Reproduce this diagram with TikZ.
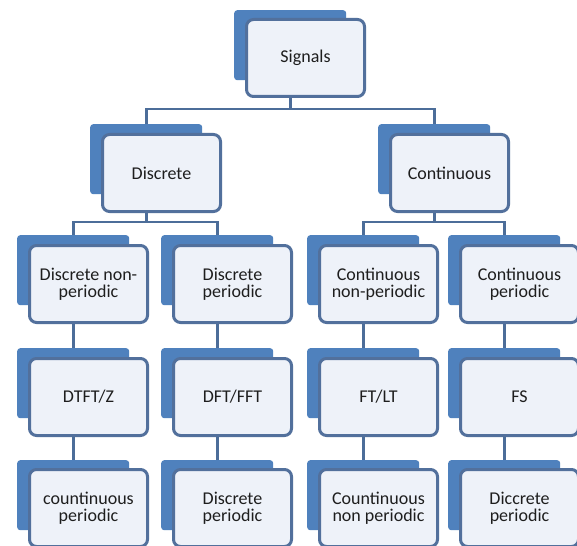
\documentclass[tikz,border=0pt]{standalone}
\usepackage{fontspec}
\setmainfont{Carlito}
\usetikzlibrary{backgrounds}
\definecolor{backblue}{HTML}{4F81BD}
\definecolor{frontfill}{HTML}{EEF2F9}
\definecolor{frontline}{HTML}{52709C}
\definecolor{linecol}{HTML}{4C6D99}
\definecolor{textcol}{HTML}{1E1E1E}
\begin{document}
\begin{tikzpicture}[x=1pt,y=-1pt,
  back/.style={fill=backblue, draw=none, rounded corners=3pt, minimum width=112pt, minimum height=70pt, anchor=north west, inner sep=0pt},
  front/.style={fill=frontfill, draw=frontline, line width=3pt, rounded corners=7pt, minimum width=118pt, minimum height=77pt, anchor=north west, inner sep=0pt, align=center, font=\fontsize{18}{17}\selectfont, text=textcol},
  conn/.style={draw=linecol, line width=2.8pt}]
\useasboundingbox (0,0) rectangle (577,545);
% level 1
\node[back] (sigB) at (234,10) {};
\node[front] (sig) at (245,18) {Signals};
% level 2
\node[back] (disB) at (90,124) {};
\node[front] (dis) at (101,133) {Discrete};
\node[back] (conB) at (378,124) {};
\node[front] (con) at (389,133) {Continuous};
% level 3
\node[back] (dnpB) at (17,235) {};
\node[front] (dnp) at (28,244) {Discrete non-\\periodic};
\node[back] (dpB) at (161,235) {};
\node[front] (dp) at (172,244) {Discrete\\periodic};
\node[back] (cnpB) at (307,235) {};
\node[front] (cnp) at (318,244) {Continuous\\non-periodic};
\node[back] (cpB) at (448,235) {};
\node[front] (cp) at (459,244) {Continuous\\periodic};
% level 4
\node[back] (dtftB) at (17,348) {};
\node[front] (dtft) at (28,357) {DTFT/Z};
\node[back] (dftB) at (161,348) {};
\node[front] (dft) at (172,357) {DFT/FFT};
\node[back] (ftB) at (307,348) {};
\node[front] (ft) at (318,357) {FT/LT};
\node[back] (fsB) at (448,348) {};
\node[front] (fs) at (459,357) {FS};
% level 5
\node[back] (r1B) at (17,460) {};
\node[front] (r1) at (28,468) {countinuous\\periodic};
\node[back] (r2B) at (161,460) {};
\node[front] (r2) at (172,468) {Discrete\\periodic};
\node[back] (r3B) at (307,460) {};
\node[front] (r3) at (318,468) {Countinuous\\non periodic};
\node[back] (r4B) at (448,460) {};
\node[front] (r4) at (459,468) {Diccrete\\periodic};
% connectors
\begin{scope}[on background layer]
\fill[white] (0,0) rectangle (577,545);
\coordinate (barA) at (0,109);
\coordinate (barB) at (0,222);
\draw[conn] (sigB.center |- sig.south) -- (sigB.center |- barA);
\draw[conn] (disB.north) -- (disB.north |- barA) -- (conB.north |- barA) -- (conB.north);
\draw[conn] (disB.center |- dis.south) -- (disB.center |- barB);
\draw[conn] (dnpB.north) -- (dnpB.north |- barB) -- (dpB.north |- barB) -- (dpB.north);
\draw[conn] (conB.center |- con.south) -- (conB.center |- barB);
\draw[conn] (cnpB.north) -- (cnpB.north |- barB) -- (cpB.north |- barB) -- (cpB.north);
\draw[conn] (dnpB.center |- dnp.south) -- (dtftB.north);
\draw[conn] (dpB.center |- dp.south) -- (dftB.north);
\draw[conn] (cnpB.center |- cnp.south) -- (ftB.north);
\draw[conn] (cpB.center |- cp.south) -- (fsB.north);
\draw[conn] (dtftB.center |- dtft.south) -- (r1B.north);
\draw[conn] (dftB.center |- dft.south) -- (r2B.north);
\draw[conn] (ftB.center |- ft.south) -- (r3B.north);
\draw[conn] (fsB.center |- fs.south) -- (r4B.north);
\end{scope}
\end{tikzpicture}
\end{document}
